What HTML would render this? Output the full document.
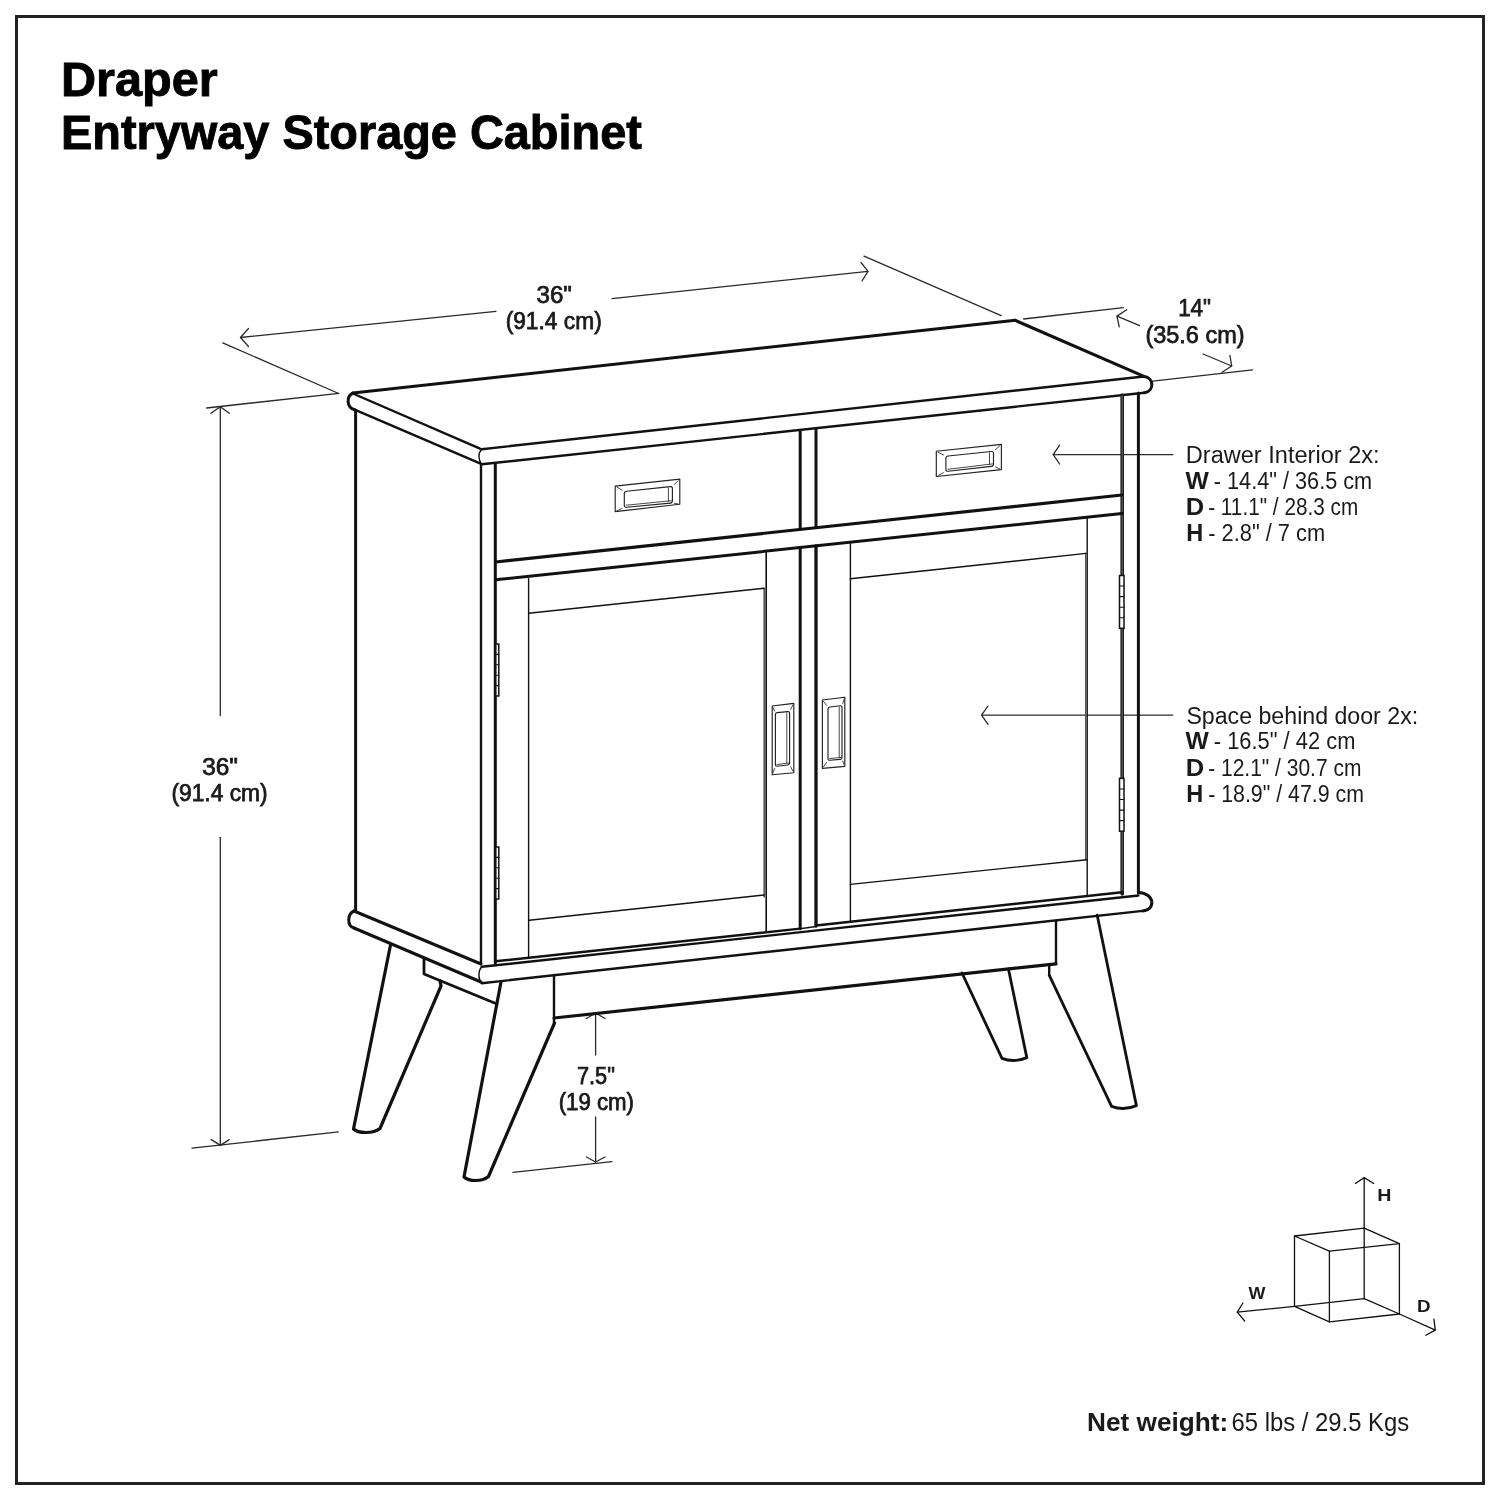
<!DOCTYPE html>
<html><head><meta charset="utf-8"><style>
html,body{margin:0;padding:0;background:#fff;}
body{width:1500px;height:1500px;overflow:hidden;position:relative;}
svg{position:absolute;left:0;top:0;font-family:"Liberation Sans",sans-serif;}
text{filter:grayscale(1);}
</style></head><body>
<svg width="1500" height="1500" viewBox="0 0 1500 1500" stroke-linecap="round">
<rect x="16.5" y="16.5" width="1467" height="1467" fill="none" stroke="#222" stroke-width="3"/>
<line x1="240.5" y1="337.5" x2="496" y2="311.3" stroke="#2a2a2a" stroke-width="1.3"/>
<line x1="612" y1="298.6" x2="868" y2="271.4" stroke="#2a2a2a" stroke-width="1.3"/>
<polyline points="248.5,328.5 240.5,337.5 248.5,346.5" fill="none" stroke="#2a2a2a" stroke-width="1.3" stroke-linejoin="round"/>
<polyline points="861,262.5 868,271.4 862,281" fill="none" stroke="#2a2a2a" stroke-width="1.3" stroke-linejoin="round"/>
<line x1="222.7" y1="342.8" x2="338.7" y2="393.5" stroke="#2a2a2a" stroke-width="1.3"/>
<line x1="864" y1="256.2" x2="1001.2" y2="315.6" stroke="#2a2a2a" stroke-width="1.3"/>
<line x1="1023.6" y1="319" x2="1123.5" y2="307.6" stroke="#2a2a2a" stroke-width="1.3"/>
<line x1="1117" y1="316.1" x2="1139.5" y2="325.7" stroke="#2a2a2a" stroke-width="1.3"/>
<polyline points="1126.7,309.7 1117,316.1 1119.2,326.8" fill="none" stroke="#2a2a2a" stroke-width="1.3" stroke-linejoin="round"/>
<line x1="1203" y1="354" x2="1231.7" y2="366" stroke="#2a2a2a" stroke-width="1.3"/>
<polyline points="1229.9,355.3 1231.7,366 1222.1,372.3" fill="none" stroke="#2a2a2a" stroke-width="1.3" stroke-linejoin="round"/>
<line x1="1152.8" y1="381.2" x2="1252.5" y2="369.8" stroke="#2a2a2a" stroke-width="1.3"/>
<line x1="206.7" y1="408" x2="338.7" y2="393.3" stroke="#2a2a2a" stroke-width="1.3"/>
<line x1="220.3" y1="406.7" x2="220.3" y2="715.7" stroke="#2a2a2a" stroke-width="1.3"/>
<line x1="220.3" y1="837.3" x2="220.3" y2="1145.4" stroke="#2a2a2a" stroke-width="1.3"/>
<polyline points="211,413.3 220.3,406.7 229.3,413.3" fill="none" stroke="#2a2a2a" stroke-width="1.3" stroke-linejoin="round"/>
<polyline points="211.2,1139.6 220.4,1145.4 229.2,1139.6" fill="none" stroke="#2a2a2a" stroke-width="1.3" stroke-linejoin="round"/>
<line x1="192" y1="1148.2" x2="338.4" y2="1131.8" stroke="#2a2a2a" stroke-width="1.3"/>
<line x1="595.6" y1="1013" x2="595.6" y2="1055" stroke="#2a2a2a" stroke-width="1.3"/>
<line x1="595.6" y1="1117" x2="595.6" y2="1162" stroke="#2a2a2a" stroke-width="1.3"/>
<polyline points="586.4,1018.5 595.6,1013 605,1018.5" fill="none" stroke="#2a2a2a" stroke-width="1.3" stroke-linejoin="round"/>
<polyline points="586.4,1157 595.6,1162 605,1157" fill="none" stroke="#2a2a2a" stroke-width="1.3" stroke-linejoin="round"/>
<line x1="513" y1="1172.4" x2="612" y2="1161.6" stroke="#2a2a2a" stroke-width="1.3"/>
<line x1="1053.2" y1="454.6" x2="1172.8" y2="454.6" stroke="#2a2a2a" stroke-width="1.3"/>
<polyline points="1059.6,445.2 1053.2,454.6 1059.6,464" fill="none" stroke="#2a2a2a" stroke-width="1.3" stroke-linejoin="round"/>
<line x1="981.6" y1="715.1" x2="1172.8" y2="715.1" stroke="#2a2a2a" stroke-width="1.3"/>
<polyline points="988,706 981.6,715.1 988,724.4" fill="none" stroke="#2a2a2a" stroke-width="1.3" stroke-linejoin="round"/>
<line x1="353" y1="393" x2="1015.4" y2="320.2" stroke="#111" stroke-width="3.0"/>
<line x1="1015.2" y1="320.4" x2="1144" y2="376.4" stroke="#111" stroke-width="3.0"/>
<path d="M354,394 L480,448.7" fill="none" stroke="#111" stroke-width="2.4" stroke-linejoin="round" stroke-linecap="round"/>
<path d="M354,409.3 L480,463.3" fill="none" stroke="#111" stroke-width="2.4" stroke-linejoin="round" stroke-linecap="round"/>
<path d="M353,393 C346,396 346.5,407.5 354.5,409.8" fill="none" stroke="#111" stroke-width="3.0" stroke-linejoin="round" stroke-linecap="round"/>
<path d="M481.7,449.2 L1143.6,376.5" fill="none" stroke="#111" stroke-width="2.4" stroke-linejoin="round" stroke-linecap="round"/>
<path d="M481.7,464.3 L1144.4,392.8" fill="none" stroke="#111" stroke-width="2.4" stroke-linejoin="round" stroke-linecap="round"/>
<path d="M1143.6,376.5 C1154,377 1155,391 1144.4,392.8" fill="none" stroke="#111" stroke-width="3.0" stroke-linejoin="round" stroke-linecap="round"/>
<path d="M481.7,449.2 C478,453 478,460 481.7,464.3" fill="none" stroke="#111" stroke-width="1.4" stroke-linejoin="round" stroke-linecap="round"/>
<line x1="355.6" y1="410" x2="355.6" y2="910" stroke="#111" stroke-width="3.0"/>
<line x1="481" y1="464" x2="481" y2="964" stroke="#111" stroke-width="2.4"/>
<line x1="495.3" y1="464" x2="495.3" y2="963" stroke="#111" stroke-width="3.0"/>
<line x1="1122.2" y1="395" x2="1122.2" y2="894" stroke="#1a1a1a" stroke-width="3.6"/>
<line x1="1122.2" y1="396" x2="1122.2" y2="893" stroke="#777" stroke-width="0.9"/>
<line x1="1138.4" y1="393" x2="1138.4" y2="893" stroke="#111" stroke-width="3.0"/>
<line x1="495.7" y1="562" x2="1122" y2="495" stroke="#111" stroke-width="3.2"/>
<line x1="495.7" y1="579.8" x2="1122" y2="513.5" stroke="#111" stroke-width="3.0"/>
<line x1="800.2" y1="431" x2="800.2" y2="529" stroke="#111" stroke-width="3.0"/>
<line x1="816" y1="429" x2="816" y2="527" stroke="#111" stroke-width="3.0"/>
<line x1="800.2" y1="547.5" x2="800.2" y2="928.8" stroke="#111" stroke-width="3.0"/>
<line x1="816" y1="546" x2="816" y2="926" stroke="#111" stroke-width="3.3"/>
<line x1="495.3" y1="961.3" x2="800.2" y2="928.6" stroke="#111" stroke-width="2.4"/>
<line x1="800.2" y1="928.8" x2="816" y2="926.5" stroke="#111" stroke-width="1.6"/>
<line x1="816" y1="925.5" x2="1122" y2="892.2" stroke="#111" stroke-width="2.4"/>
<line x1="528.6" y1="578.6" x2="528.6" y2="958" stroke="#111" stroke-width="1.4"/>
<line x1="766.2" y1="551" x2="766.2" y2="931" stroke="#111" stroke-width="1.6"/>
<line x1="764.2" y1="588.5" x2="764.2" y2="897" stroke="#555" stroke-width="1.6"/>
<line x1="528.8" y1="613.3" x2="764.2" y2="588.3" stroke="#111" stroke-width="1.4"/>
<line x1="529.2" y1="920.3" x2="764.2" y2="895" stroke="#111" stroke-width="1.4"/>
<line x1="850.4" y1="542.6" x2="850.4" y2="921.6" stroke="#111" stroke-width="1.4"/>
<line x1="1087.2" y1="517" x2="1087.2" y2="896.5" stroke="#111" stroke-width="1.4"/>
<line x1="1085.8" y1="553.4" x2="1085.8" y2="859.7" stroke="#555" stroke-width="1.6"/>
<line x1="850.4" y1="578.8" x2="1086" y2="553.4" stroke="#111" stroke-width="1.4"/>
<line x1="850.4" y1="884.4" x2="1086.8" y2="859.7" stroke="#111" stroke-width="1.4"/>
<rect x="495.8" y="644" width="3.0" height="52" fill="#fff" stroke="#111" stroke-width="1.5"/>
<line x1="495.8" y1="654.4" x2="498.8" y2="654.4" stroke="#111" stroke-width="1.1"/>
<line x1="495.8" y1="664.8" x2="498.8" y2="664.8" stroke="#111" stroke-width="1.1"/>
<line x1="495.8" y1="675.2" x2="498.8" y2="675.2" stroke="#111" stroke-width="1.1"/>
<line x1="495.8" y1="685.6" x2="498.8" y2="685.6" stroke="#111" stroke-width="1.1"/>
<rect x="495.8" y="847" width="3.0" height="52" fill="#fff" stroke="#111" stroke-width="1.5"/>
<line x1="495.8" y1="857.4" x2="498.8" y2="857.4" stroke="#111" stroke-width="1.1"/>
<line x1="495.8" y1="867.8" x2="498.8" y2="867.8" stroke="#111" stroke-width="1.1"/>
<line x1="495.8" y1="878.2" x2="498.8" y2="878.2" stroke="#111" stroke-width="1.1"/>
<line x1="495.8" y1="888.6" x2="498.8" y2="888.6" stroke="#111" stroke-width="1.1"/>
<rect x="1119.5" y="575.5" width="4.5" height="52.799999999999955" fill="#fff" stroke="#111" stroke-width="1.5"/>
<line x1="1119.5" y1="586.06" x2="1124" y2="586.06" stroke="#111" stroke-width="1.1"/>
<line x1="1119.5" y1="596.62" x2="1124" y2="596.62" stroke="#111" stroke-width="1.1"/>
<line x1="1119.5" y1="607.18" x2="1124" y2="607.18" stroke="#111" stroke-width="1.1"/>
<line x1="1119.5" y1="617.74" x2="1124" y2="617.74" stroke="#111" stroke-width="1.1"/>
<rect x="1119.5" y="778.4" width="4.5" height="52.80000000000007" fill="#fff" stroke="#111" stroke-width="1.5"/>
<line x1="1119.5" y1="788.96" x2="1124" y2="788.96" stroke="#111" stroke-width="1.1"/>
<line x1="1119.5" y1="799.52" x2="1124" y2="799.52" stroke="#111" stroke-width="1.1"/>
<line x1="1119.5" y1="810.08" x2="1124" y2="810.08" stroke="#111" stroke-width="1.1"/>
<line x1="1119.5" y1="820.64" x2="1124" y2="820.64" stroke="#111" stroke-width="1.1"/>
<polygon points="615.2,486.1 679.8,479.1 679.8,504.3 615.2,511.6" fill="none" stroke="#222" stroke-width="1.15" stroke-linejoin="round"/>
<path d="M624.30,493.70 Q624.3,491.5 626.49,491.27 L670.21,486.63 Q672.4,486.4 672.40,488.60 L672.40,500.70 Q672.4,502.9 670.21,503.10 L626.49,507.20 Q624.3,507.4 624.30,505.20 Z" fill="none" stroke="#222" stroke-width="1.15" stroke-linejoin="round" stroke-linecap="round"/>
<line x1="668.4" y1="487.9" x2="668.4" y2="501.4" stroke="#333" stroke-width="0.9"/>
<line x1="626.3" y1="505.2" x2="671.4" y2="500.7" stroke="#333" stroke-width="0.9"/>
<line x1="617.02" y1="487.18" x2="622.025" y2="490.15" stroke="#333" stroke-width="0.9"/>
<line x1="678.3199999999999" y1="480.56" x2="674.25" y2="484.575" stroke="#333" stroke-width="0.9"/>
<line x1="678.3199999999999" y1="504.02" x2="674.25" y2="503.25" stroke="#333" stroke-width="0.9"/>
<line x1="617.02" y1="510.76" x2="622.025" y2="508.45" stroke="#333" stroke-width="0.9"/>
<polygon points="936.3,451.3 1001.4,444.4 1001.4,469.6 936.3,476.5" fill="none" stroke="#222" stroke-width="1.15" stroke-linejoin="round"/>
<path d="M945.90,458.40 Q945.9,456.2 948.09,455.97 L991.31,451.53 Q993.5,451.3 993.50,453.50 L993.50,463.90 Q993.5,466.1 991.31,466.35 L948.09,471.25 Q945.9,471.5 945.90,469.30 Z" fill="none" stroke="#222" stroke-width="1.15" stroke-linejoin="round" stroke-linecap="round"/>
<line x1="989.5" y1="452.8" x2="989.5" y2="464.6" stroke="#333" stroke-width="0.9"/>
<line x1="947.9" y1="469.3" x2="992.5" y2="463.90000000000003" stroke="#333" stroke-width="0.9"/>
<line x1="938.2199999999999" y1="452.28000000000003" x2="943.5" y2="454.975" stroke="#333" stroke-width="0.9"/>
<line x1="999.8199999999999" y1="445.78" x2="995.475" y2="449.575" stroke="#333" stroke-width="0.9"/>
<line x1="999.8199999999999" y1="468.90000000000003" x2="995.475" y2="466.975" stroke="#333" stroke-width="0.9"/>
<line x1="938.2199999999999" y1="475.5" x2="943.5" y2="472.75" stroke="#333" stroke-width="0.9"/>
<polygon points="772.2,706 793.8,703.4 793.8,772.8 772.2,774.8" fill="none" stroke="#222" stroke-width="1.15" stroke-linejoin="round"/>
<path d="M775.40,714.60 Q775.4,712.8 777.19,712.62 L787.81,711.58 Q789.6,711.4 789.60,713.20 L789.60,763.00 Q789.6,764.8 787.81,765.00 L777.19,766.20 Q775.4,766.4 775.40,764.60 Z" fill="none" stroke="#222" stroke-width="1.15" stroke-linejoin="round" stroke-linecap="round"/>
<line x1="786.8000000000001" y1="712.9" x2="786.8000000000001" y2="763.3" stroke="#333" stroke-width="0.9"/>
<line x1="776.9" y1="764.6" x2="788.6" y2="763.0" stroke="#333" stroke-width="0.9"/>
<line x1="772.84" y1="707.36" x2="774.6" y2="711.0999999999999" stroke="#333" stroke-width="0.9"/>
<line x1="792.9599999999999" y1="705.0" x2="790.65" y2="709.4" stroke="#333" stroke-width="0.9"/>
<line x1="792.9599999999999" y1="771.1999999999999" x2="790.65" y2="766.8" stroke="#333" stroke-width="0.9"/>
<line x1="772.84" y1="773.12" x2="774.6" y2="768.5" stroke="#333" stroke-width="0.9"/>
<polygon points="822.4,700 844.8,697.2 844.8,766.4 822.4,768.4" fill="none" stroke="#222" stroke-width="1.15" stroke-linejoin="round"/>
<path d="M828.00,709.00 Q828,707.2 829.79,707.00 L840.21,705.80 Q842,705.6 842.00,707.40 L842.00,757.40 Q842,759.2 840.21,759.35 L829.79,760.25 Q828,760.4 828.00,758.60 Z" fill="none" stroke="#222" stroke-width="1.15" stroke-linejoin="round" stroke-linecap="round"/>
<line x1="839.2" y1="707.1" x2="839.2" y2="757.7" stroke="#333" stroke-width="0.9"/>
<line x1="829.5" y1="758.6" x2="841" y2="757.4000000000001" stroke="#333" stroke-width="0.9"/>
<line x1="823.52" y1="701.44" x2="826.6" y2="705.4000000000001" stroke="#333" stroke-width="0.9"/>
<line x1="844.24" y1="698.88" x2="842.7" y2="703.5" stroke="#333" stroke-width="0.9"/>
<line x1="844.24" y1="764.96" x2="842.7" y2="761.0" stroke="#333" stroke-width="0.9"/>
<line x1="823.52" y1="766.8" x2="826.6" y2="762.4" stroke="#333" stroke-width="0.9"/>
<path d="M354,911 L481,964" fill="none" stroke="#111" stroke-width="3.0" stroke-linejoin="round" stroke-linecap="round"/>
<path d="M354,928 L481,982" fill="none" stroke="#111" stroke-width="3.0" stroke-linejoin="round" stroke-linecap="round"/>
<path d="M354,911 C347,914 347,926 354,928" fill="none" stroke="#111" stroke-width="3.0" stroke-linejoin="round" stroke-linecap="round"/>
<path d="M481.7,966.8 L1138.4,895.5" fill="none" stroke="#111" stroke-width="2.4" stroke-linejoin="round" stroke-linecap="round"/>
<path d="M481.7,983.2 L1142.8,910.9" fill="none" stroke="#111" stroke-width="2.4" stroke-linejoin="round" stroke-linecap="round"/>
<path d="M1138.4,892.5 C1155,893 1156,910 1142.8,910.9" fill="none" stroke="#111" stroke-width="3.0" stroke-linejoin="round" stroke-linecap="round"/>
<path d="M481.7,966.8 C478,971 478,979 481.7,983.2" fill="none" stroke="#111" stroke-width="1.4" stroke-linejoin="round" stroke-linecap="round"/>
<path d="M424,958 L424,974 L497,1004" fill="none" stroke="#111" stroke-width="2.8" stroke-linejoin="round" stroke-linecap="round"/>
<line x1="554" y1="975" x2="554" y2="1023" stroke="#111" stroke-width="2.4"/>
<line x1="554" y1="1018" x2="1056" y2="963.8" stroke="#111" stroke-width="3.2"/>
<line x1="1056" y1="921" x2="1056" y2="964" stroke="#111" stroke-width="2.4"/>
<path d="M1049.2,964.8 L1049.2,975.2" fill="none" stroke="#111" stroke-width="2.4" stroke-linejoin="round" stroke-linecap="round"/>
<path d="M390.5,945 L353.5,1129 C358,1133.5 373,1134 380,1128.5 L441,986 L440,980.6" fill="none" stroke="#111" stroke-width="3.2" stroke-linejoin="round" stroke-linecap="round"/>
<path d="M501,982 L464,1177 C469,1181.5 482,1182 488.5,1176.5 L554.5,1023" fill="none" stroke="#111" stroke-width="3.2" stroke-linejoin="round" stroke-linecap="round"/>
<path d="M962,973 L1002,1058.4 Q1014,1063 1026.8,1057.6 L1008.4,968.8" fill="none" stroke="#111" stroke-width="2.8" stroke-linejoin="round" stroke-linecap="round"/>
<path d="M1049.2,975.2 L1111.6,1106.4 Q1124,1111 1136.4,1105.6 L1097.2,915.2" fill="none" stroke="#111" stroke-width="2.8" stroke-linejoin="round" stroke-linecap="round"/>
<polygon points="1294.5,1236 1364.2,1228.2 1399.4,1243.6 1329.4,1251.2" fill="none" stroke="#111" stroke-width="1.3" stroke-linejoin="round"/>
<polygon points="1294.5,1306.4 1364.2,1298.6 1399.4,1314 1329.4,1321.8" fill="none" stroke="#111" stroke-width="1.3" stroke-linejoin="round"/>
<line x1="1294.5" y1="1236" x2="1294.5" y2="1306.4" stroke="#111" stroke-width="1.3"/>
<line x1="1364.2" y1="1228.2" x2="1364.2" y2="1298.6" stroke="#111" stroke-width="1.3"/>
<line x1="1399.4" y1="1243.6" x2="1399.4" y2="1314" stroke="#111" stroke-width="1.3"/>
<line x1="1329.4" y1="1251.2" x2="1329.4" y2="1321.8" stroke="#111" stroke-width="1.3"/>
<line x1="1364.2" y1="1228.2" x2="1364.2" y2="1177.6" stroke="#111" stroke-width="1.3"/>
<polyline points="1355.4,1183.5 1364.2,1177.6 1373.7,1183.5" fill="none" stroke="#111" stroke-width="1.3" stroke-linejoin="round"/>
<line x1="1294.5" y1="1306.4" x2="1237.3" y2="1312.2" stroke="#111" stroke-width="1.3"/>
<polyline points="1242.9,1303 1237.3,1312.2 1244.7,1321" fill="none" stroke="#111" stroke-width="1.3" stroke-linejoin="round"/>
<line x1="1399.4" y1="1314" x2="1435.3" y2="1330.1" stroke="#111" stroke-width="1.3"/>
<polyline points="1433.9,1319.1 1435.3,1330.1 1425.8,1335.3" fill="none" stroke="#111" stroke-width="1.3" stroke-linejoin="round"/>
<text id="draper" x="61.0" y="96" font-size="48" font-weight="700" text-anchor="start" fill="#000" textLength="156.73" lengthAdjust="spacingAndGlyphs" stroke="#000" stroke-width="0.9">Draper</text>
<text id="entry" x="61.0" y="149" font-size="48" font-weight="700" text-anchor="start" fill="#000" textLength="580.83" lengthAdjust="spacingAndGlyphs" stroke="#000" stroke-width="0.9">Entryway Storage Cabinet</text>
<text id="t36" x="554.1999999999998" y="302.7" font-size="23" font-weight="400" text-anchor="middle" fill="#1a1a1a" textLength="35.35" lengthAdjust="spacingAndGlyphs" stroke="#1a1a1a" stroke-width="0.75">36&quot;</text>
<text id="t914" x="553.6999999999998" y="328.7" font-size="23" font-weight="400" text-anchor="middle" fill="#1a1a1a" textLength="96.14" lengthAdjust="spacingAndGlyphs" stroke="#1a1a1a" stroke-width="0.75">(91.4 cm)</text>
<text id="t14" x="1194.6000000000004" y="315.6" font-size="23" font-weight="400" text-anchor="middle" fill="#1a1a1a" textLength="32.95" lengthAdjust="spacingAndGlyphs" stroke="#1a1a1a" stroke-width="0.75">14&quot;</text>
<text id="t356" x="1195.0" y="342.8" font-size="23" font-weight="400" text-anchor="middle" fill="#1a1a1a" textLength="99.14" lengthAdjust="spacingAndGlyphs" stroke="#1a1a1a" stroke-width="0.75">(35.6 cm)</text>
<text id="l36" x="220.0" y="774.8" font-size="23" font-weight="400" text-anchor="middle" fill="#1a1a1a" textLength="35.75" lengthAdjust="spacingAndGlyphs" stroke="#1a1a1a" stroke-width="0.75">36&quot;</text>
<text id="l914" x="219.5" y="801" font-size="23" font-weight="400" text-anchor="middle" fill="#1a1a1a" textLength="96.14" lengthAdjust="spacingAndGlyphs" stroke="#1a1a1a" stroke-width="0.75">(91.4 cm)</text>
<text id="t75" x="595.8999999999996" y="1083.8" font-size="23" font-weight="400" text-anchor="middle" fill="#1a1a1a" textLength="37.94" lengthAdjust="spacingAndGlyphs" stroke="#1a1a1a" stroke-width="0.75">7.5&quot;</text>
<text id="t19" x="596.3000000000002" y="1109.8" font-size="23" font-weight="400" text-anchor="middle" fill="#1a1a1a" textLength="75.35" lengthAdjust="spacingAndGlyphs" stroke="#1a1a1a" stroke-width="0.75">(19 cm)</text>
<text id="di" x="1185.7999999999993" y="463" font-size="23" font-weight="400" text-anchor="start" fill="#1a1a1a" textLength="193.77" lengthAdjust="spacingAndGlyphs" >Drawer Interior 2x:</text>
<text id="dwb" x="1185.6000000000004" y="489" font-size="23" font-weight="700" text-anchor="start" fill="#1a1a1a" textLength="23.32" lengthAdjust="spacingAndGlyphs" >W</text>
<text id="dwr" x="1213.7999999999993" y="489" font-size="23" font-weight="400" text-anchor="start" fill="#1a1a1a" textLength="158.37" lengthAdjust="spacingAndGlyphs" >- 14.4&quot; / 36.5 cm</text>
<text id="ddb" x="1185.7999999999993" y="514.6" font-size="23" font-weight="700" text-anchor="start" fill="#1a1a1a" textLength="18.43" lengthAdjust="spacingAndGlyphs" >D</text>
<text id="ddr" x="1208.2000000000007" y="514.6" font-size="23" font-weight="400" text-anchor="start" fill="#1a1a1a" textLength="150.07" lengthAdjust="spacingAndGlyphs" >- 11.1&quot; / 28.3 cm</text>
<text id="dhb" x="1186.2000000000007" y="541.2" font-size="23" font-weight="700" text-anchor="start" fill="#1a1a1a" textLength="17.02" lengthAdjust="spacingAndGlyphs" >H</text>
<text id="dhr" x="1208.2000000000007" y="541.2" font-size="23" font-weight="400" text-anchor="start" fill="#1a1a1a" textLength="117.00" lengthAdjust="spacingAndGlyphs" >- 2.8&quot; / 7 cm</text>
<text id="si" x="1186.3999999999996" y="723.8" font-size="23" font-weight="400" text-anchor="start" fill="#1a1a1a" textLength="231.77" lengthAdjust="spacingAndGlyphs" >Space behind door 2x:</text>
<text id="swb" x="1185.6000000000004" y="749" font-size="23" font-weight="700" text-anchor="start" fill="#1a1a1a" textLength="23.32" lengthAdjust="spacingAndGlyphs" >W</text>
<text id="swr" x="1213.7999999999993" y="749" font-size="23" font-weight="400" text-anchor="start" fill="#1a1a1a" textLength="141.58" lengthAdjust="spacingAndGlyphs" >- 16.5&quot; / 42 cm</text>
<text id="sdb" x="1185.7999999999993" y="775.8" font-size="23" font-weight="700" text-anchor="start" fill="#1a1a1a" textLength="18.43" lengthAdjust="spacingAndGlyphs" >D</text>
<text id="sdr" x="1208.2000000000007" y="775.8" font-size="23" font-weight="400" text-anchor="start" fill="#1a1a1a" textLength="153.17" lengthAdjust="spacingAndGlyphs" >- 12.1&quot; / 30.7 cm</text>
<text id="shb" x="1186.2000000000007" y="802.3" font-size="23" font-weight="700" text-anchor="start" fill="#1a1a1a" textLength="17.02" lengthAdjust="spacingAndGlyphs" >H</text>
<text id="shr" x="1208.2000000000007" y="802.3" font-size="23" font-weight="400" text-anchor="start" fill="#1a1a1a" textLength="155.77" lengthAdjust="spacingAndGlyphs" >- 18.9&quot; / 47.9 cm</text>
<text id="cH" x="1377.2000000000007" y="1200.8" font-size="16" font-weight="700" text-anchor="start" fill="#1a1a1a" textLength="14.16" lengthAdjust="spacingAndGlyphs" >H</text>
<text id="cW" x="1248.3999999999996" y="1299.3" font-size="16" font-weight="700" text-anchor="start" fill="#1a1a1a" textLength="16.91" lengthAdjust="spacingAndGlyphs" >W</text>
<text id="cD" x="1417.0" y="1311.8" font-size="16" font-weight="700" text-anchor="start" fill="#1a1a1a" textLength="13.56" lengthAdjust="spacingAndGlyphs" >D</text>
<text id="netb" x="1087.0" y="1431" font-size="25.5" font-weight="700" text-anchor="start" fill="#1a1a1a" textLength="141.22" lengthAdjust="spacingAndGlyphs" >Net weight:</text>
<text id="netr" x="1231.6000000000004" y="1431" font-size="25.5" font-weight="400" text-anchor="start" fill="#1a1a1a" textLength="177.57" lengthAdjust="spacingAndGlyphs" >65 lbs / 29.5 Kgs</text>
</svg>
</body></html>
